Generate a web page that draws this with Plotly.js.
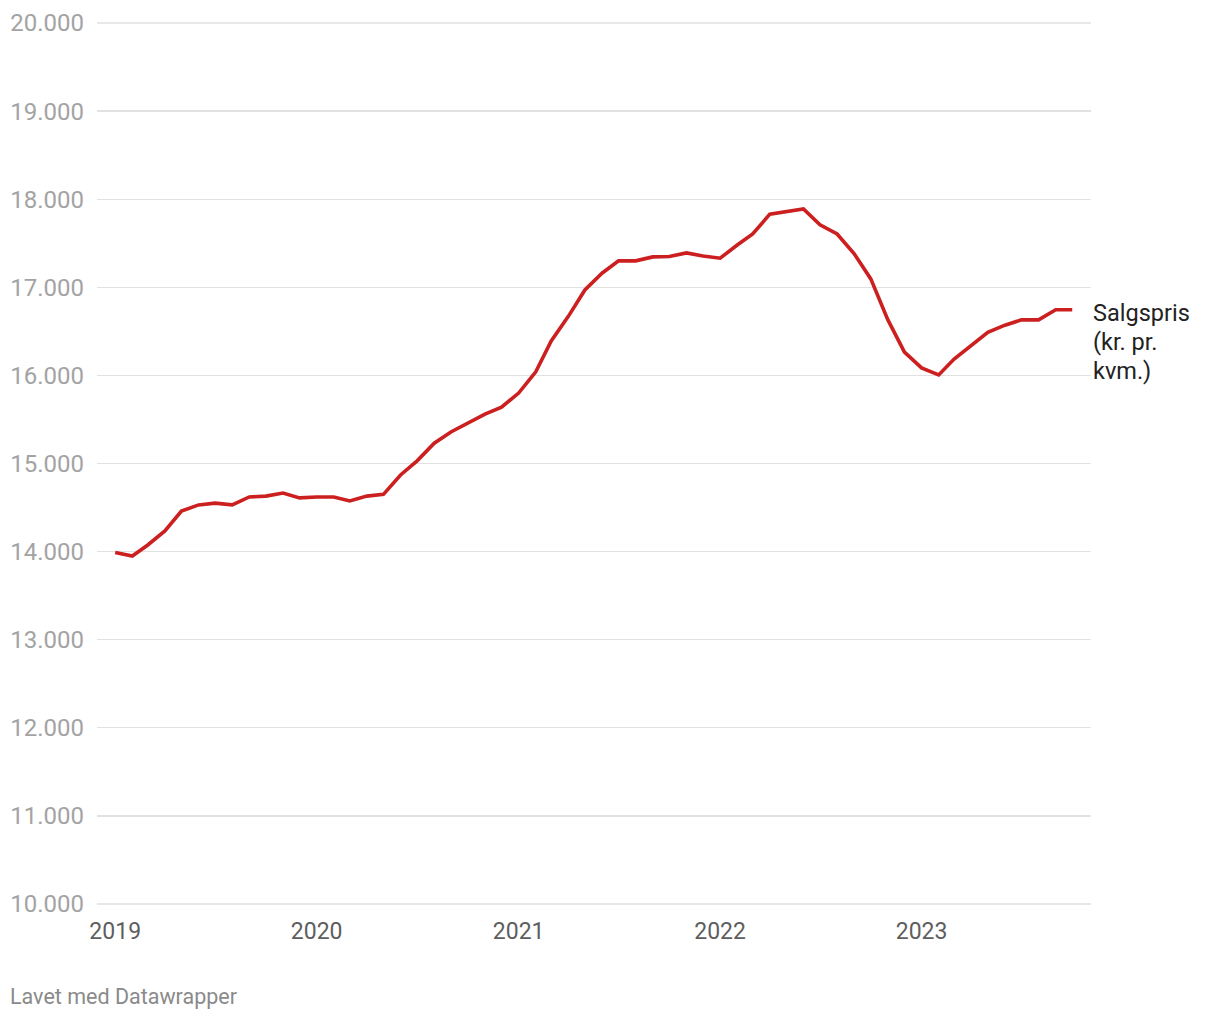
<!DOCTYPE html>
<html>
<head>
<meta charset="utf-8">
<script src="https://cdn.plot.ly/plotly-3.0.1.min.js"></script>
<style>
html,body{margin:0;padding:0;background:#fff;}
#chart{width:1220px;height:1020px;}
</style>
</head>
<body>
<div id="chart"></div>
<script>
const months = [
 '2019-01-01','2019-02-01','2019-03-01','2019-04-01','2019-05-01','2019-06-01','2019-07-01','2019-08-01','2019-09-01','2019-10-01','2019-11-01','2019-12-01',
 '2020-01-01','2020-02-01','2020-03-01','2020-04-01','2020-05-01','2020-06-01','2020-07-01','2020-08-01','2020-09-01','2020-10-01','2020-11-01','2020-12-01',
 '2021-01-01','2021-02-01','2021-03-01','2021-04-01','2021-05-01','2021-06-01','2021-07-01','2021-08-01','2021-09-01','2021-10-01','2021-11-01','2021-12-01',
 '2022-01-01','2022-02-01','2022-03-01','2022-04-01','2022-05-01','2022-06-01','2022-07-01','2022-08-01','2022-09-01','2022-10-01','2022-11-01','2022-12-01',
 '2023-01-01','2023-02-01','2023-03-01','2023-04-01','2023-05-01','2023-06-01','2023-07-01','2023-08-01','2023-09-01','2023-10-01'
];
const salgspris = [
 13990,13950,14075,14235,14460,14530,14550,14530,14620,14630,14665,14610,
 14620,14620,14575,14630,14650,14870,15030,15230,15360,15460,15560,15640,
 15800,16040,16390,16670,16970,17160,17300,17300,17345,17350,17390,17355,
 17330,17480,17605,17830,17855,17890,17710,17605,17380,17095,16630,16265,
 16085,16005,16185,16335,16490,16570,16630,16630,16745,16745
];
const seriesLabelLines = ['Salgspris', '(kr. pr.', 'kvm.)'];
const yTicks = [10000,11000,12000,13000,14000,15000,16000,17000,18000,19000,20000];
const xTicks = ['2019-01-01','2020-01-01','2021-01-01','2022-01-01','2023-01-01'];
const xTickText = ['2019','2020','2021','2022','2023'];
const credit = 'Lavet med Datawrapper';

const trace = {
  x: months, y: salgspris, type: 'scatter', mode: 'lines',
  line: {color: '#cc1f1f', width: 3.6},
  hoverinfo: 'skip', showlegend: false
};

const lastY = salgspris[salgspris.length - 1];
const labelAnns = seriesLabelLines.map((t, i) => ({
  xref: 'paper', yref: 'y', x: 1, y: lastY, xanchor: 'left', yanchor: 'middle',
  xshift: 0, yshift: -3 - i * 29, text: t, showarrow: false, align: 'left',
  font: {size: 23.5, color: '#222'}
}));

// edge gridlines (Plotly hides gridlines on the plot-area border)
const edgeGrid = [yTicks[0], yTicks[yTicks.length - 1]].map(v => ({
  type: 'line', xref: 'paper', yref: 'y', x0: 0, x1: 1, y0: v, y1: v,
  line: {color: '#e1e1e1', width: 1.3}, layer: 'below'
}));

const layout = {
  width: 1220, height: 1020,
  margin: {l: 97, r: 129, t: 22, b: 115},
  paper_bgcolor: '#fff', plot_bgcolor: '#fff',
  separators: ',.',
  font: {family: 'Roboto, sans-serif'},
  xaxis: {
    type: 'date',
    range: ['2018-11-29', '2023-11-04'],
    tickvals: xTicks, ticktext: xTickText,
    showgrid: false, zeroline: false, showline: false,
    ticks: '', tickfont: {size: 23, color: '#5e5e5e'},
    ticklabelstandoff: 10
  },
  yaxis: {
    range: [9988.6, 20011.4],
    tickvals: yTicks, tickformat: ',d',
    showgrid: true, gridcolor: '#e1e1e1', gridwidth: 1.3,
    zeroline: false, showline: false, ticks: '',
    tickfont: {size: 24, color: '#a3a3a3'},
    ticklabelstandoff: 12
  },
  shapes: edgeGrid,
  annotations: labelAnns.concat([
    {xref: 'paper', yref: 'paper', x: 0, y: 0, xanchor: 'left', yanchor: 'top',
     xshift: -89, yshift: -77, text: credit, showarrow: false,
     font: {size: 21.5, color: '#8a8a8a'}}
  ])
};

Plotly.newPlot('chart', [trace], layout, {displayModeBar: false, staticPlot: true});
</script>
</body>
</html>
